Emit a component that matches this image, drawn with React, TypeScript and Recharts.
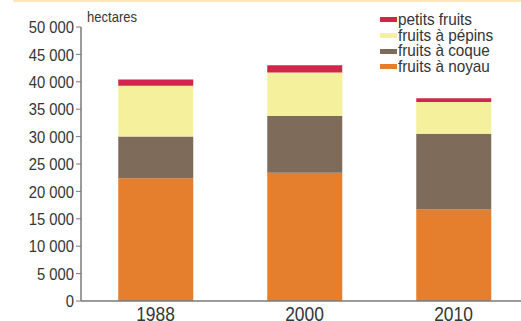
import React from "react";
import { BarChart, Bar, XAxis, YAxis } from "recharts";

const YEARS = ["1988", "2000", "2010"];
const NOYAU = [22400, 23400, 16700];
const COQUE = [7600, 10400, 13800];
const PEPINS = [9300, 7900, 5800];
const PETITS = [1100, 1300, 700];
const Y_TICKS = [0, 5000, 10000, 15000, 20000, 25000, 30000, 35000, 40000, 45000, 50000];

const SERIES = [
    { key: "noyau", name: "fruits à noyau", color: "#e67f2d" },
    { key: "coque", name: "fruits à coque", color: "#7e6b5a" },
    { key: "pepins", name: "fruits à pépins", color: "#f5f09b" },
    { key: "petits", name: "petits fruits", color: "#cf2649" },
];

const data = YEARS.map((year, i) => ({
    year,
    noyau: NOYAU[i],
    coque: COQUE[i],
    pepins: PEPINS[i],
    petits: PETITS[i],
}));

// no narrow font installed, so squeeze Liberation Sans horizontally
const FONT = '"Liberation Sans", Arial, sans-serif';
const SQUEEZE = 0.87;
const TEXT = "#353535";

function formatThousands(v: number): string {
    return String(v).replace(/\B(?=(\d{3})+(?!\d))/g, " ");
}

function YTick(props: any) {
    const { x, y, payload } = props;
    return (
        <g transform={`translate(${x},${y})`}>
            <text transform={`scale(${SQUEEZE},1)`} textAnchor="end" dy="0.36em" fill={TEXT} fontSize={17} fontFamily={FONT}>
                {formatThousands(payload.value)}
            </text>
        </g>
    );
}

function XTick(props: any) {
    const { x, y, payload } = props;
    return (
        <g transform={`translate(${x},${y})`}>
            <text transform={`scale(${SQUEEZE},1)`} textAnchor="middle" dy="0.71em" fill={TEXT} fontSize={20} fontFamily={FONT}>
                {payload.value}
            </text>
        </g>
    );
}

function LegendBox() {
    // listed top-down in reverse stack order
    return (
        <div style={{ position: "absolute", left: 380, top: 12, fontFamily: FONT, fontSize: 17, color: TEXT }}>
            {[...SERIES].reverse().map((s) => (
                <div key={s.key} style={{ display: "flex", alignItems: "center", height: 15.7, whiteSpace: "nowrap" }}>
                    <span style={{ width: 17, height: 5, background: s.color, marginRight: 1, display: "inline-block" }} />
                    <span style={{ display: "inline-block", transform: `scaleX(0.9)`, transformOrigin: "left center", lineHeight: "15.7px" }}>
                        {s.name}
                    </span>
                </div>
            ))}
        </div>
    );
}

export default function App() {
    return (
        <div
            style={{
                position: "fixed",
                left: 0,
                top: 0,
                width: 521,
                height: 321,
                overflow: "hidden",
                background: "#fff",
            }}
        >
            <div style={{ position: "absolute", left: 13, top: 0, width: 508, height: 2, background: "#fce6bb" }} />
            <div
                style={{
                    position: "absolute",
                    left: 87,
                    top: 8,
                    fontFamily: FONT,
                    fontSize: 15,
                    color: TEXT,
                    transform: `scaleX(${SQUEEZE})`,
                    transformOrigin: "left top",
                }}
            >
                hectares
            </div>
            <BarChart
                width={528}
                height={345}
                data={data}
                margin={{ top: 27, right: 0, left: 0, bottom: 0 }}
                barCategoryGap="25%"
            >
                <XAxis
                    dataKey="year"
                    height={44}
                    axisLine={{ stroke: "#7a7a7a", strokeWidth: 1.5 }}
                    tickLine={false}
                    tickSize={6}
                    tickMargin={0}
                    tick={<XTick />}
                />
                <YAxis
                    width={81}
                    domain={[0, 50000]}
                    ticks={Y_TICKS}
                    interval={0}
                    axisLine={{ stroke: "#7a7a7a", strokeWidth: 1.5 }}
                    tickLine={{ stroke: "#7a7a7a" }}
                    tickSize={5}
                    tickMargin={2}
                    tick={<YTick />}
                />
                {SERIES.map((s) => (
                    <Bar
                        key={s.key}
                        dataKey={s.key}
                        name={s.name}
                        stackId="a"
                        fill={s.color}
                        isAnimationActive={false}
                    />
                ))}
            </BarChart>
            <LegendBox />
        </div>
    );
}
